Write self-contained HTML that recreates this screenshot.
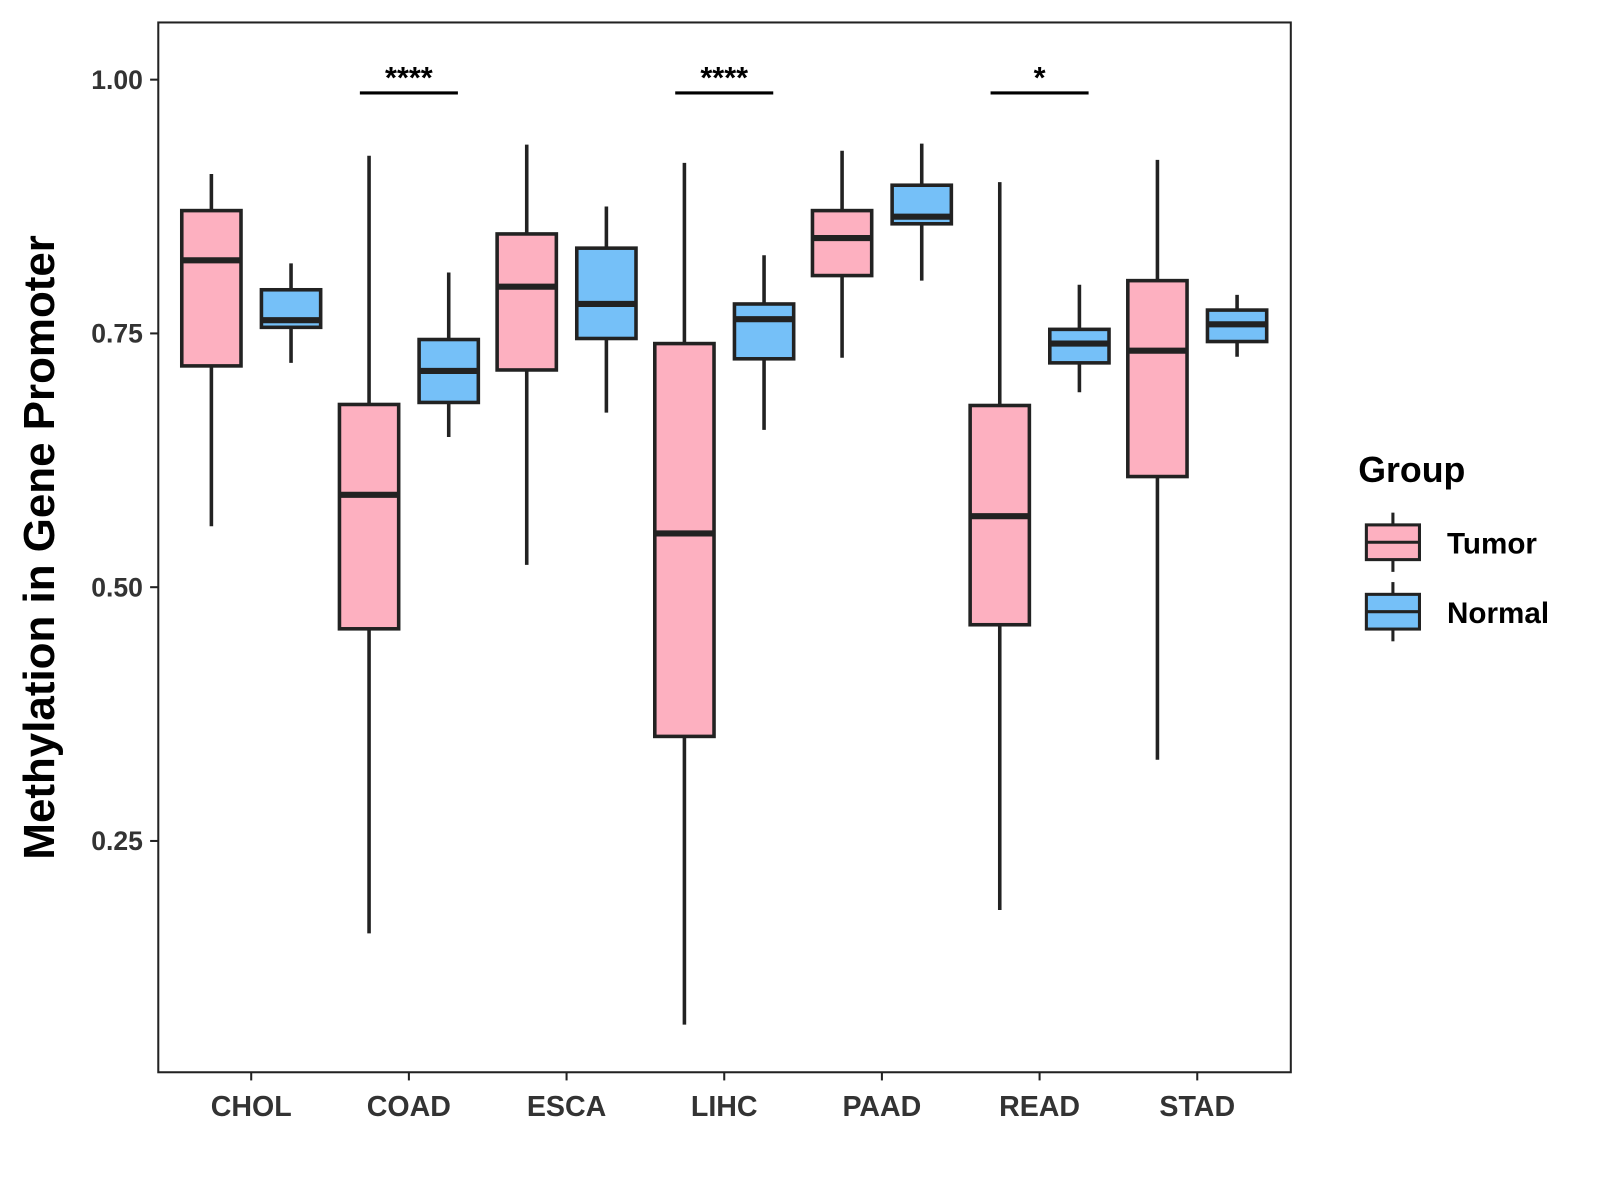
<!DOCTYPE html>
<html><head><meta charset="utf-8"><style>
body{margin:0;background:#fff;}
svg{display:block;font-family:"Liberation Sans",Arial,sans-serif;}
</style></head><body>
<svg id="chart" width="1600" height="1200" viewBox="0 0 1600 1200">
<rect x="0" y="0" width="1600" height="1200" fill="#fff"/>
<g transform="scale(1.0212)">
<rect x="155" y="22" width="1109" height="1028" fill="none" stroke="#222" stroke-width="2"/>
<g id="marks"></g>
<text transform="translate(53,536) rotate(-90)" text-anchor="middle" font-size="43" font-weight="bold" fill="#000">Methylation in Gene Promoter</text>
<g>
<text x="1330" y="472" font-size="35" font-weight="bold">Group</text>
<g>
<line x1="1364" y1="502" x2="1364" y2="560" stroke="#222" stroke-width="3"/>
<rect x="1338" y="514" width="52" height="34" fill="#FDB0C0" stroke="#222" stroke-width="3"/>
<line x1="1338" y1="531" x2="1390" y2="531" stroke="#222" stroke-width="3"/>
<text x="1417" y="542" font-size="29" font-weight="bold">Tumor</text></g>
<g>
<line x1="1364" y1="570" x2="1364" y2="628" stroke="#222" stroke-width="3"/>
<rect x="1338" y="582" width="52" height="34" fill="#75C0F8" stroke="#222" stroke-width="3"/>
<line x1="1338" y1="599" x2="1390" y2="599" stroke="#222" stroke-width="3"/>
<text x="1417" y="610" font-size="29" font-weight="bold">Normal</text></g>
</g>
</g>
</svg>
<script>
const categories=["CHOL","COAD","ESCA","LIHC","PAAD","READ","STAD"];
const tumorMin=[0.560,0.159,0.522,0.069,0.726,0.182,0.330];
const tumorQ1=[0.718,0.459,0.714,0.353,0.807,0.463,0.609];
const tumorMed=[0.822,0.591,0.796,0.553,0.844,0.570,0.733];
const tumorQ3=[0.871,0.680,0.848,0.740,0.871,0.679,0.802];
const tumorMax=[0.907,0.925,0.936,0.918,0.930,0.899,0.921];
const normalMin=[0.721,0.648,0.672,0.655,0.802,0.692,0.727];
const normalQ1=[0.756,0.682,0.745,0.725,0.858,0.721,0.742];
const normalMed=[0.763,0.713,0.779,0.764,0.865,0.740,0.759];
const normalQ3=[0.793,0.744,0.834,0.779,0.896,0.754,0.773];
const normalMax=[0.819,0.810,0.875,0.827,0.937,0.798,0.788];
const sigLabels=["","****","","****","","*",""];
const yTicks=[0.25,0.50,0.75,1.00];
const yTickLabels=["0.25","0.50","0.75","1.00"];

const NS="http://www.w3.org/2000/svg";
const g=document.getElementById('marks');
function y(v){return 78+(1-v)*994;}
function x(i){return 246+i*154.4;}
function el(t,a,p){const e=document.createElementNS(NS,t);for(const k in a)e.setAttribute(k,a[k]);(p||g).appendChild(e);return e;}

yTicks.forEach((v,i)=>{
  const t=el('line',{x1:147,x2:155,y1:y(v),y2:y(v),stroke:'#222','stroke-width':2});
  
  
  const l=el('text',{x:140,y:y(v)+9,'text-anchor':'end','font-size':26,'font-weight':'bold',fill:'#333'});
  l.textContent=yTickLabels[i];
  
  
});
categories.forEach((c,i)=>{
  const t=el('line',{x1:x(i),x2:x(i),y1:1050,y2:1058,stroke:'#222','stroke-width':2});
  
  
  const l=el('text',{x:x(i),y:1093,'text-anchor':'middle','font-size':28,'font-weight':'bold',fill:'#333'});
  l.textContent=c;
  
  
});
function box(cx,mn,q1,md,q3,mx,fill,name){
  const grp=el('g',{});
  
  
  el('line',{x1:cx,x2:cx,y1:y(mx),y2:y(mn),stroke:'#222','stroke-width':3.5},grp);
  el('rect',{x:cx-29,y:y(q3),width:58,height:y(q1)-y(q3),fill:fill,stroke:'#222','stroke-width':3.5},grp);
  el('line',{x1:cx-29,x2:cx+29,y1:y(md),y2:y(md),stroke:'#222','stroke-width':6},grp);
}
categories.forEach((c,i)=>{
  box(x(i)-39,tumorMin[i],tumorQ1[i],tumorMed[i],tumorQ3[i],tumorMax[i],'#FDB0C0','box-tumor-'+c.toLowerCase());
  box(x(i)+39,normalMin[i],normalQ1[i],normalMed[i],normalQ3[i],normalMax[i],'#75C0F8','box-normal-'+c.toLowerCase());
  if(sigLabels[i]){
    const b=el('line',{x1:x(i)-48,x2:x(i)+48,y1:91,y2:91,stroke:'#000','stroke-width':3});
    
    
    const s=el('text',{x:x(i),y:86,'text-anchor':'middle','font-size':30,'font-weight':'bold',fill:'#000'});
    s.textContent=sigLabels[i];
    
    
  }
});
</script>
</body></html>
